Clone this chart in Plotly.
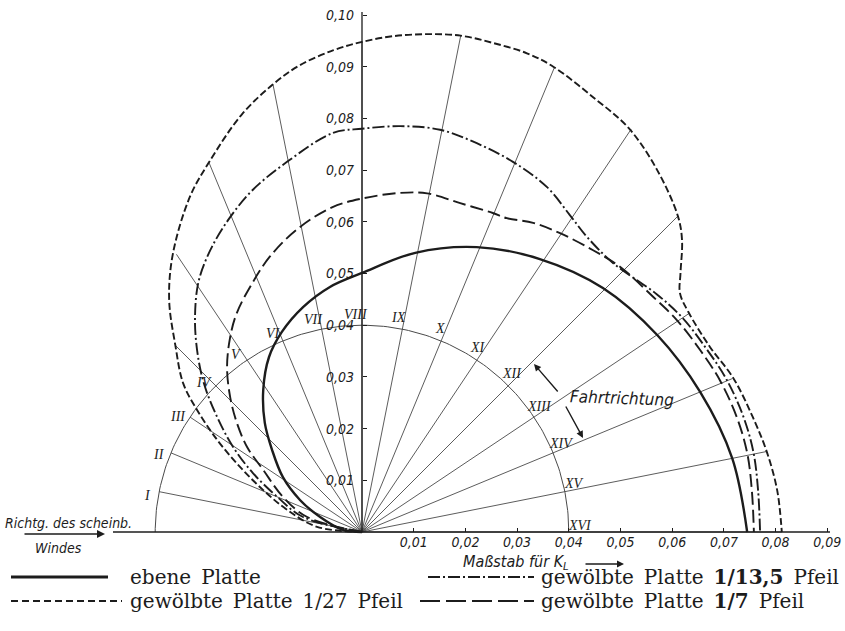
import numpy as np
import plotly.graph_objects as go

# ---------------- data ----------------
RAY_NAMES = ["I", "II", "III", "IV", "V", "VI", "VII", "VIII",
             "IX", "X", "XI", "XII", "XIII", "XIV", "XV", "XVI"]
RAY_ANGLE_DEG = [168.75, 157.5, 146.25, 135.0, 123.75, 112.5, 101.25, 90.0,
                 78.75, 67.5, 56.25, 45.0, 33.75, 22.5, 11.25, 0.0]
RAY_LENGTH = [0.040, 0.040, 0.040, 0.051, 0.0646, 0.0774, 0.0883, 0.0948,
              0.0979, 0.0972, 0.0937, 0.0864, 0.0760, 0.0775, 0.0798, 0.0812]
SCALE_RADIUS = 0.04

X_TICKS = [0.01, 0.02, 0.03, 0.04, 0.05, 0.06, 0.07, 0.08, 0.09]
X_TICK_LABELS = ["0,01", "0,02", "0,03", "0,04", "0,05", "0,06", "0,07", "0,08", "0,09"]
Y_TICKS = [0.01, 0.02, 0.03, 0.04, 0.05, 0.06, 0.07, 0.08, 0.09, 0.10]
Y_TICK_LABELS = ["0,01", "0,02", "0,03", "0,04", "0,05", "0,06", "0,07", "0,08", "0,09", "0,10"]

SP = "\u2002"
SERIES_NAMES = ["ebene" + SP + "Platte",
                "gewölbte" + SP + "Platte" + SP + "<b>1/13,5</b>" + SP + "Pfeil",
                "gewölbte" + SP + "Platte" + SP + "1/27" + SP + "Pfeil",
                "gewölbte" + SP + "Platte" + SP + "<b>1/7</b>" + SP + "Pfeil"]

# ebene Platte (solid)
EBENE_X = [0.0, -0.0037, -0.0081, -0.0120, -0.0153, -0.0174, -0.0188, -0.0191, -0.0180,
           -0.0155, -0.0114, -0.0062, 0.0, 0.0103, 0.0222, 0.0344, 0.0466, 0.0571,
           0.0654, 0.0716, 0.0745]
EBENE_Y = [0.0, 0.0004, 0.0029, 0.0062, 0.0106, 0.0159, 0.0211, 0.0275, 0.0338,
           0.0387, 0.0435, 0.0474, 0.0501, 0.0540, 0.0551, 0.0528, 0.0472, 0.0381,
           0.0271, 0.0143, 0.0]

# gewölbte Platte 1/13,5 Pfeil (dash-dot)
P135_X = [0.0, -0.0114, -0.0164, -0.0211, -0.0249, -0.0280, -0.0306, -0.0319, -0.0323,
          -0.0316, -0.0292, -0.0255, -0.0211, -0.0145, -0.0056, 0.0, 0.0074, 0.0151,
          0.0222, 0.0292, 0.0358, 0.0402, 0.0435, 0.0486, 0.0570, 0.0620, 0.0665,
          0.0704, 0.0737, 0.0757, 0.0766, 0.0770]
P135_Y = [0.0, 0.0029, 0.0068, 0.0114, 0.0164, 0.0222, 0.0288, 0.0352, 0.0416,
          0.0485, 0.0548, 0.0609, 0.0662, 0.0716, 0.0772, 0.0780, 0.0785, 0.0778,
          0.0752, 0.0716, 0.0667, 0.0613, 0.0571, 0.0520, 0.0460, 0.0414, 0.0356,
          0.0297, 0.0225, 0.0155, 0.0082, 0.0]

# gewölbte Platte 1/27 Pfeil (short dashes, outermost curve)
P27_X = [0.0, -0.0087, -0.0145, -0.0191, -0.0236, -0.0280, -0.0319, -0.0346, -0.0361,
         -0.0373, -0.0366, -0.0333, -0.0296, -0.0233, -0.0172, -0.0120,
         -0.0055, 0.0, 0.0060, 0.0126, 0.0191, 0.0253, 0.0319, 0.0370, 0.0447, 0.0516,
         0.0571, 0.0611, 0.0619, 0.0616, 0.0615, 0.0631, 0.0673, 0.0718, 0.0756, 0.0783,
         0.0803, 0.0812]
P27_Y = [0.0, 0.0010, 0.0043, 0.0081, 0.0126, 0.0178, 0.0236, 0.0288, 0.0361,
         0.0449, 0.0537, 0.0648, 0.0715, 0.0807, 0.0866, 0.0903,
         0.0932, 0.0948, 0.0959, 0.0963, 0.0960, 0.0946, 0.0926, 0.0900, 0.0841, 0.0781,
         0.0700, 0.0611, 0.0565, 0.0500, 0.0462, 0.0426, 0.0358, 0.0298, 0.0222, 0.0155,
         0.0081, 0.0]

# gewölbte Platte 1/7 Pfeil (long dashes)
P7_X = [0.0, -0.0106, -0.0153, -0.0191, -0.0222, -0.0242, -0.0255, -0.0261, -0.0255,
        -0.0242, -0.0213, -0.0178, -0.0125, -0.0058, 0.0, 0.0074, 0.0126, 0.0190,
        0.0253, 0.0280, 0.0331, 0.0383, 0.0447, 0.0499, 0.0563, 0.0609, 0.0654,
        0.0692, 0.0725, 0.0745, 0.0754, 0.0758]
P7_Y = [0.0, 0.0029, 0.0068, 0.0120, 0.0164, 0.0211, 0.0261, 0.0319, 0.0377,
        0.0424, 0.0480, 0.0533, 0.0586, 0.0628, 0.0645, 0.0656, 0.0655, 0.0636,
        0.0617, 0.0607, 0.0598, 0.0578, 0.0545, 0.0513, 0.0455, 0.0410, 0.0352,
        0.0294, 0.0222, 0.0153, 0.0081, 0.0]

# ---------------- geometry of the page ----------------
W, H = 845, 631
S = 5170.0          # pixels per unit of K
OX, OY = 362, 532   # pixel position of the origin

INK = "#1c1c1c"
RAY = "#4a4a4a"
SANS_C = "DejaVu Sans Condensed, Liberation Sans Narrow, DejaVu Sans, sans-serif"
SERIF = "DejaVu Serif, Liberation Serif, serif"
ROMAN = "Liberation Serif, DejaVu Serif, serif"


def X(px):
    return (px - OX) / S


def Y(py):
    return (OY - py) / S


fig = go.Figure()

# rays
rx, ry = [], []
for a, L in zip(RAY_ANGLE_DEG, RAY_LENGTH):
    t = np.radians(a)
    rx += [0.0, L * np.cos(t), None]
    ry += [0.0, L * np.sin(t), None]
fig.add_trace(go.Scatter(x=rx, y=ry, mode="lines", line=dict(color=RAY, width=0.9),
                         hoverinfo="skip", showlegend=False))

# scale circle (K = 0.04)
th = np.radians(np.linspace(0, 180, 181))
fig.add_trace(go.Scatter(x=SCALE_RADIUS * np.cos(th), y=SCALE_RADIUS * np.sin(th),
                         mode="lines", line=dict(color=RAY, width=1.0),
                         hoverinfo="skip", showlegend=False))

# curves
curves = [
    (EBENE_X, EBENE_Y, SERIES_NAMES[0], dict(color=INK, width=2.4)),
    (P135_X, P135_Y, SERIES_NAMES[1], dict(color=INK, width=1.9, dash="12px,3px,2px,3px")),
    (P27_X, P27_Y, SERIES_NAMES[2], dict(color=INK, width=1.9, dash="7px,3px")),
    (P7_X, P7_Y, SERIES_NAMES[3], dict(color=INK, width=1.9, dash="13px,5px")),
]
for cx, cy, name, ln in curves:
    fig.add_trace(go.Scatter(x=cx, y=cy, mode="lines", name=name,
                             line=dict(shape="spline", smoothing=1.0, **ln),
                             showlegend=False))

# axis lines
shapes = [
    dict(type="line", xref="x", yref="y", x0=X(113), x1=X(830), y0=0, y1=0,
         line=dict(color=INK, width=1.3)),
    dict(type="line", xref="x", yref="y", x0=0, x1=0, y0=0, y1=Y(12),
         line=dict(color=INK, width=1.3)),
]

annotations = []

# roman numerals on the K = 0.04 circle
for name, a in zip(RAY_NAMES, RAY_ANGLE_DEG):
    t = np.radians(a + 1.6)
    r = 0.0421
    annotations.append(dict(x=r * np.cos(t), y=r * np.sin(t), xref="x", yref="y",
                            text=name, showarrow=False,
                            font=dict(family=ROMAN, size=14, color=INK, style="italic")))

# text labels
annotations += [
    dict(x=X(622), y=Y(398), xref="x", yref="y", text="Fahrtrichtung", showarrow=False,
         textangle=2, font=dict(family=SANS_C, size=17, color=INK, style="italic")),
    dict(x=X(534), y=Y(364), ax=X(559), ay=Y(393), xref="x", yref="y", axref="x", ayref="y",
         text="", showarrow=True, arrowhead=2, arrowsize=1, arrowwidth=1.4, arrowcolor=INK),
    dict(x=X(583), y=Y(438), ax=X(565), ay=Y(405), xref="x", yref="y", axref="x", ayref="y",
         text="", showarrow=True, arrowhead=2, arrowsize=1, arrowwidth=1.4, arrowcolor=INK),
    dict(x=X(68), y=Y(523), xref="x", yref="y", text="Richtg. des scheinb.", showarrow=False,
         font=dict(family=SANS_C, size=14, color=INK, style="italic")),
    dict(x=X(58), y=Y(548), xref="x", yref="y", text="Windes", showarrow=False,
         font=dict(family=SANS_C, size=14, color=INK, style="italic")),
    dict(x=X(105), y=Y(534), ax=X(23), ay=Y(534), xref="x", yref="y", axref="x", ayref="y",
         text="", showarrow=True, arrowhead=2, arrowsize=1, arrowwidth=1.6, arrowcolor=INK),
    dict(x=X(516), y=Y(562), xref="x", yref="y", text="Maßstab für K<sub>L</sub>",
         showarrow=False, font=dict(family=SANS_C, size=16, color=INK, style="italic")),
    dict(x=X(624), y=Y(564), ax=X(584), ay=Y(564), xref="x", yref="y", axref="x", ayref="y",
         text="", showarrow=True, arrowhead=2, arrowsize=1, arrowwidth=1.4, arrowcolor=INK),
]

# legend (drawn by hand, two columns)
def px(x):
    return x / W


def py(y):
    return (H - y) / H


legend_rows = [
    (11, 108, 577, dict(color=INK, width=3.0), 128, SERIES_NAMES[0]),
    (428, 534, 577, dict(color=INK, width=2.0, dash="12px,3px,2px,3px"), 539, SERIES_NAMES[1]),
    (11, 122, 601, dict(color=INK, width=2.0, dash="7px,4px"), 128, SERIES_NAMES[2]),
    (420, 534, 601, dict(color=INK, width=2.0, dash="20px,6px"), 539, SERIES_NAMES[3]),
]
for x0, x1, yy, ln, tx, txt in legend_rows:
    shapes.append(dict(type="line", xref="paper", yref="paper", x0=px(x0), x1=px(x1),
                       y0=py(yy), y1=py(yy), line=ln))
    annotations.append(dict(x=px(tx), y=py(yy), xref="paper", yref="paper", text=txt,
                            xanchor="left", yanchor="middle", showarrow=False,
                            font=dict(family=SERIF, size=20, color=INK)))

fig.update_layout(
    width=W, height=H, autosize=False,
    margin=dict(l=0, r=0, t=0, b=0),
    paper_bgcolor="white", plot_bgcolor="white",
    separators=",.",
    showlegend=False,
    shapes=shapes,
    annotations=annotations,
    xaxis=dict(range=[X(0), X(W)], anchor="free", position=(H - OY) / H,
               showgrid=False, zeroline=False, showline=False,
               tickvals=X_TICKS, ticktext=X_TICK_LABELS,
               ticks="inside", ticklen=4, tickwidth=1, tickcolor=INK,
               tickfont=dict(family=SANS_C, size=14, color=INK, style="italic"),
               fixedrange=True),
    yaxis=dict(range=[Y(H), Y(0)], anchor="free", position=OX / W,
               showgrid=False, zeroline=False, showline=False,
               tickvals=Y_TICKS, ticktext=Y_TICK_LABELS,
               ticks="inside", ticklen=4, tickwidth=1, tickcolor=INK,
               ticklabelstandoff=8,
               tickfont=dict(family=SANS_C, size=14, color=INK, style="italic"),
               fixedrange=True),
)

fig.write_html("out.html")
